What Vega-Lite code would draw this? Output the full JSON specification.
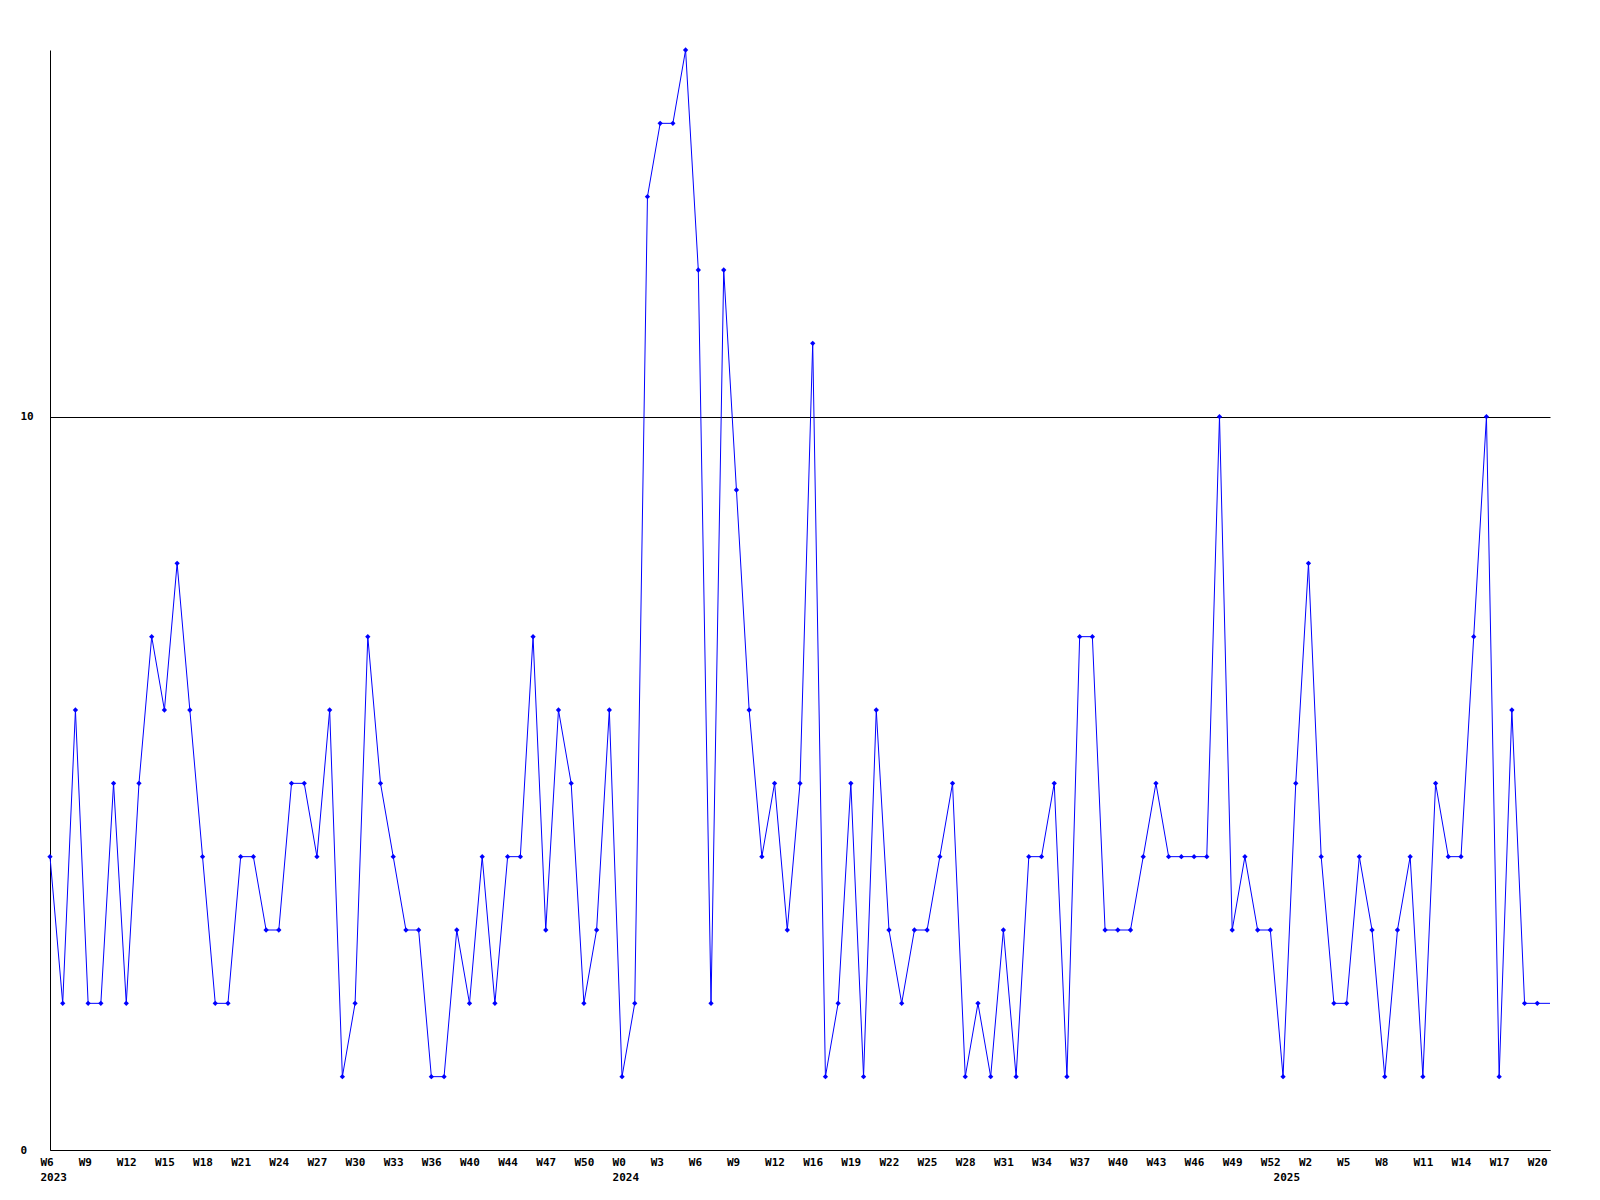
{
  "$schema": "https://vega.github.io/schema/vega-lite/v6.json",
  "width": 1500,
  "height": 1100,
  "autosize": {"type": "none"},
  "padding": {"left": 50, "top": 50, "right": 50, "bottom": 50},
  "background": "white",
  "config": {
    "view": {"stroke": null},
    "axis": {
      "labelFont": "DejaVu Sans Mono",
      "labelFontWeight": "bold",
      "labelFontSize": 11,
      "labelColor": "black",
      "domainColor": "black",
      "domainWidth": 1,
      "ticks": false,
      "tickSize": 0,
      "title": null,
      "labelOverlap": false,
      "labelFlush": false,
      "labelBound": false
    }
  },
  "data": {
    "values": [
      {"i": 0, "v": 4}, {"i": 1, "v": 2}, {"i": 2, "v": 6}, {"i": 3, "v": 2}, {"i": 4, "v": 2},
      {"i": 5, "v": 5}, {"i": 6, "v": 2}, {"i": 7, "v": 5}, {"i": 8, "v": 7}, {"i": 9, "v": 6},
      {"i": 10, "v": 8}, {"i": 11, "v": 6}, {"i": 12, "v": 4}, {"i": 13, "v": 2}, {"i": 14, "v": 2},
      {"i": 15, "v": 4}, {"i": 16, "v": 4}, {"i": 17, "v": 3}, {"i": 18, "v": 3}, {"i": 19, "v": 5},
      {"i": 20, "v": 5}, {"i": 21, "v": 4}, {"i": 22, "v": 6}, {"i": 23, "v": 1}, {"i": 24, "v": 2},
      {"i": 25, "v": 7}, {"i": 26, "v": 5}, {"i": 27, "v": 4}, {"i": 28, "v": 3}, {"i": 29, "v": 3},
      {"i": 30, "v": 1}, {"i": 31, "v": 1}, {"i": 32, "v": 3}, {"i": 33, "v": 2}, {"i": 34, "v": 4},
      {"i": 35, "v": 2}, {"i": 36, "v": 4}, {"i": 37, "v": 4}, {"i": 38, "v": 7}, {"i": 39, "v": 3},
      {"i": 40, "v": 6}, {"i": 41, "v": 5}, {"i": 42, "v": 2}, {"i": 43, "v": 3}, {"i": 44, "v": 6},
      {"i": 45, "v": 1}, {"i": 46, "v": 2}, {"i": 47, "v": 13}, {"i": 48, "v": 14}, {"i": 49, "v": 14},
      {"i": 50, "v": 15}, {"i": 51, "v": 12}, {"i": 52, "v": 2}, {"i": 53, "v": 12}, {"i": 54, "v": 9},
      {"i": 55, "v": 6}, {"i": 56, "v": 4}, {"i": 57, "v": 5}, {"i": 58, "v": 3}, {"i": 59, "v": 5},
      {"i": 60, "v": 11}, {"i": 61, "v": 1}, {"i": 62, "v": 2}, {"i": 63, "v": 5}, {"i": 64, "v": 1},
      {"i": 65, "v": 6}, {"i": 66, "v": 3}, {"i": 67, "v": 2}, {"i": 68, "v": 3}, {"i": 69, "v": 3},
      {"i": 70, "v": 4}, {"i": 71, "v": 5}, {"i": 72, "v": 1}, {"i": 73, "v": 2}, {"i": 74, "v": 1},
      {"i": 75, "v": 3}, {"i": 76, "v": 1}, {"i": 77, "v": 4}, {"i": 78, "v": 4}, {"i": 79, "v": 5},
      {"i": 80, "v": 1}, {"i": 81, "v": 7}, {"i": 82, "v": 7}, {"i": 83, "v": 3}, {"i": 84, "v": 3},
      {"i": 85, "v": 3}, {"i": 86, "v": 4}, {"i": 87, "v": 5}, {"i": 88, "v": 4}, {"i": 89, "v": 4},
      {"i": 90, "v": 4}, {"i": 91, "v": 4}, {"i": 92, "v": 10}, {"i": 93, "v": 3}, {"i": 94, "v": 4},
      {"i": 95, "v": 3}, {"i": 96, "v": 3}, {"i": 97, "v": 1}, {"i": 98, "v": 5}, {"i": 99, "v": 8},
      {"i": 100, "v": 4}, {"i": 101, "v": 2}, {"i": 102, "v": 2}, {"i": 103, "v": 4}, {"i": 104, "v": 3},
      {"i": 105, "v": 1}, {"i": 106, "v": 3}, {"i": 107, "v": 4}, {"i": 108, "v": 1}, {"i": 109, "v": 5},
      {"i": 110, "v": 4}, {"i": 111, "v": 4}, {"i": 112, "v": 7}, {"i": 113, "v": 10}, {"i": 114, "v": 1},
      {"i": 115, "v": 6}, {"i": 116, "v": 2}, {"i": 117, "v": 2}, {"i": 118, "v": 2}
    ]
  },
  "layer": [
    {
      "mark": {"type": "line", "color": "#0000ff", "strokeWidth": 1},
      "encoding": {
        "x": {
          "field": "i",
          "type": "quantitative",
          "scale": {"domain": [0, 118], "nice": false, "zero": false},
          "axis": {
            "orient": "bottom",
            "values": [0,3,6,9,12,15,18,21,24,27,30,33,36,39,42,45,48,51,54,57,60,63,66,69,72,75,78,81,84,87,90,93,96,99,102,105,108,111,114,117],
            "labelExpr": "['W6','W9','W12','W15','W18','W21','W24','W27','W30','W33','W36','W40','W44','W47','W50','W0','W3','W6','W9','W12','W16','W19','W22','W25','W28','W31','W34','W37','W40','W43','W46','W49','W52','W2','W5','W8','W11','W14','W17','W20'][round(datum.value/3)]",
            "labelAlign": "left",
            "labelBaseline": "top",
            "labelOffset": -10,
            "labelPadding": 6,
            "grid": false
          }
        },
        "y": {
          "field": "v",
          "type": "quantitative",
          "scale": {"domain": [0, 15], "nice": false},
          "axis": {
            "values": [0, 10],
            "format": "d",
            "grid": true,
            "gridColor": "black",
            "gridWidth": 1,
            "gridOpacity": 1,
            "labelAlign": "left",
            "labelBaseline": "middle",
            "labelPadding": 30
          }
        }
      }
    },
    {
      "transform": [{"filter": "datum.i < 118"}],
      "mark": {"type": "point", "shape": "diamond", "filled": true, "size": 28, "color": "#0000ff", "opacity": 1},
      "encoding": {
        "x": {
          "field": "i",
          "type": "quantitative",
          "axis": {
            "orient": "bottom",
            "values": [0, 45, 97],
            "labelExpr": "datum.value == 0 ? '2023' : datum.value == 45 ? '2024' : '2025'",
            "labelAlign": "left",
            "labelBaseline": "top",
            "labelOffset": -10,
            "labelPadding": 6,
            "offset": 15,
            "domain": false,
            "grid": false
          }
        },
        "y": {"field": "v", "type": "quantitative"}
      }
    }
  ],
  "resolve": {"axis": {"x": "independent"}}
}
